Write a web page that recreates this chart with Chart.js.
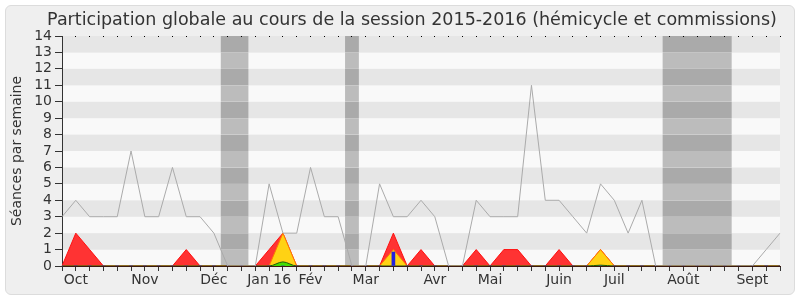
<!DOCTYPE html>
<html>
<head>
<meta charset="utf-8">
<script src="https://cdn.jsdelivr.net/npm/chart.js@4/dist/chart.umd.min.js"></script>
<style>
  body { margin: 0; background: #fff; }
  #frame {
    position: absolute; left: 5px; top: 5px; width: 788px; height: 288px;
    border: 1px solid #dcdcdc; border-radius: 6px; background: #efefef;
  }
  #chart { position: absolute; left: 0; top: 0; }
</style>
</head>
<body>
<div id="frame"></div>
<canvas id="chart" width="800" height="300"></canvas>
<script>
// Data
const chartTitle = 'Participation globale au cours de la session 2015-2016 (hémicycle et commissions)';
const monthNames = ['Oct', 'Nov', 'Déc', 'Jan 16', 'Fév', 'Mar', 'Avr', 'Mai', 'Juin', 'Juil', 'Août', 'Sept'];
const monthWeeks = [1, 6, 11, 15, 18, 22, 27, 31, 36, 40, 45, 50];
const weekCount = 53;

// gray line: total sessions per week
const seances = [3, 4, 3, 3, 3, 7, 3, 3, 6, 3, 3, 2, 0, 0, 0, 5, 2, 2, 6, 3, 3, 0, 0, 5, 3, 3, 4,
  3, 0, 0, 4, 3, 3, 3, 11, 4, 4, 3, 2, 5, 4, 2, 4, 0, 0, 0, 0, 0, 0, 0, 0, 1, 2];
// red: présences
const presences = [0, 2, 1, 0, 0, 0, 0, 0, 0, 1, 0, 0, 0, 0, 0, 1, 2, 0, 0, 0, 0, 0, 0, 0, 2, 0, 1,
  0, 0, 0, 1, 0, 1, 1, 0, 0, 1, 0, 0, 1, 0, 0, 0, 0, 0, 0, 0, 0, 0, 0, 0, 0, 0];
// yellow
const participations = [0, 0, 0, 0, 0, 0, 0, 0, 0, 0, 0, 0, 0, 0, 0, 0, 2, 0, 0, 0, 0, 0, 0, 0, 1, 0, 0,
  0, 0, 0, 0, 0, 0, 0, 0, 0, 0, 0, 0, 1, 0, 0, 0, 0, 0, 0, 0, 0, 0, 0, 0, 0, 0];
// green
const interventions = [0, 0, 0, 0, 0, 0, 0, 0, 0, 0, 0, 0, 0, 0, 0, 0, 0.25, 0, 0, 0, 0, 0, 0, 0, 0, 0, 0,
  0, 0, 0, 0, 0, 0, 0, 0, 0, 0, 0, 0, 0.05, 0, 0, 0, 0, 0, 0, 0, 0, 0, 0, 0, 0, 0];
// blue bars
const questions = [0, 0, 0, 0, 0, 0, 0, 0, 0, 0, 0, 0, 0, 0, 0, 0, 0, 0, 0, 0, 0, 0, 0, 0, 0.85, 0, 0,
  0, 0, 0, 0, 0, 0, 0, 0, 0, 0, 0, 0, 0, 0, 0, 0, 0, 0, 0, 0, 0, 0, 0, 0, 0, 0];

// parliament breaks (in weeks)
const breakStart = [11.5, 20.5, 43.5];
const breakEnd = [13.5, 21.5, 48.5];

const labels = [];
for (let i = 0; i < weekCount; i++) {
  const m = monthWeeks.indexOf(i);
  labels.push(m >= 0 ? monthNames[m] : '');
}

// Striped background + gray breaks
const backdrop = {
  id: 'backdrop',
  beforeDraw(chart) {
    const { ctx, chartArea: a, scales: { x, y } } = chart;
    ctx.save();
    for (let v = 0; v < 14; v++) {
      const top = y.getPixelForValue(v + 1);
      const bottom = y.getPixelForValue(v);
      ctx.fillStyle = v % 2 ? '#e6e6e6' : '#f9f9f9';
      ctx.fillRect(a.left, top, a.width, bottom - top);
      ctx.fillStyle = v % 2 ? '#aaaaaa' : '#bcbcbc';
      breakStart.forEach((s, i) => {
        const l = x.getPixelForValue(s);
        const r = x.getPixelForValue(breakEnd[i]);
        ctx.fillRect(l, top, r - l, bottom - top);
      });
    }
    ctx.restore();
  },
  afterDraw(chart) {
    const ctx = chart.ctx;
    ctx.save();
    ctx.font = '17.5px "DejaVu Sans"';
    ctx.fillStyle = '#333';
    ctx.textAlign = 'center';
    ctx.textBaseline = 'alphabetic';
    ctx.fillText(chartTitle, 412, 24.5);
    ctx.restore();
  }
};

const area = (data, fill, border, order) => ({
  type: 'line',
  data,
  backgroundColor: fill,
  borderColor: border,
  borderWidth: 1,
  fill: 'origin',
  pointRadius: 0,
  tension: 0,
  order
});

const ctx = document.getElementById('chart').getContext('2d');
new Chart(ctx, {
  type: 'line',
  data: {
    labels,
    datasets: [
      {
        type: 'line',
        data: seances,
        borderColor: '#aaaaaa',
        borderWidth: 1,
        fill: false,
        pointRadius: 0,
        tension: 0,
        order: 0
      },
      {
        type: 'bar',
        data: questions,
        backgroundColor: '#2222dd',
        barThickness: 3,
        order: 1
      },
      Object.assign(area(interventions, '#44dd00', '#1a5a0a', 2), { cubicInterpolationMode: 'monotone' }),
      area(participations, '#ffd214', '#ff7a00', 3),
      area(presences, '#ff3333', '#ff1010', 4)
    ]
  },
  options: {
    responsive: false,
    animation: false,
    layout: { padding: { top: 36, right: 20, bottom: 0, left: 0 } },
    plugins: {
      legend: { display: false },
      tooltip: { enabled: false }
    },
    scales: {
      x: {
        type: 'category',
        offset: false,
        afterFit: (s) => { s.height = 34; },
        grid: {
          offset: false,
          drawOnChartArea: true,
          color: '#000',
          tickColor: '#333',
          tickLength: 5
        },
        border: { display: true, color: '#3a1a10', width: 1, dash: [1, 400] },
        ticks: {
          autoSkip: false,
          maxRotation: 0,
          padding: 1,
          color: '#333',
          font: { family: 'DejaVu Sans', size: 14 }
        }
      },
      y: {
        min: 0,
        max: 14,
        afterFit: (s) => { s.width = 62; },
        grid: { drawOnChartArea: false, tickColor: '#333', tickLength: 7 },
        border: { display: true, color: '#333', width: 1 },
        ticks: {
          stepSize: 1,
          autoSkip: false,
          padding: 3,
          color: '#333',
          font: { family: 'DejaVu Sans', size: 14 }
        },
        title: {
          display: true,
          text: 'Séances par semaine',
          color: '#333',
          padding: { top: 9, bottom: 0 },
          font: { family: 'DejaVu Sans', size: 14 }
        }
      }
    }
  },
  plugins: [backdrop]
});
</script>
</body>
</html>
